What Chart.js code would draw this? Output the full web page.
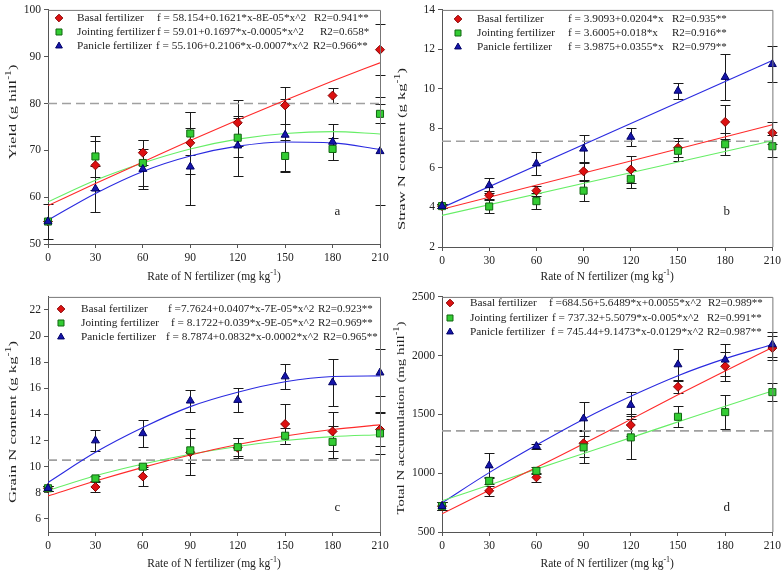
<!DOCTYPE html>
<html>
<head>
<meta charset="utf-8">
<script src="https://cdn.jsdelivr.net/npm/chart.js@4.4.1/dist/chart.umd.min.js"></script>
<style>
  body { margin: 0; background: #fff; }
  #wrap { position: relative; width: 784px; height: 575px; overflow: hidden; }
  .panel { position: absolute; width: 392px; height: 287px; }
</style>
</head>
<body>
<div id="wrap">
  <div class="panel" style="left:0;top:0"><canvas id="panelA" width="392" height="287"></canvas></div>
  <div class="panel" style="left:392px;top:0"><canvas id="panelB" width="392" height="287"></canvas></div>
  <div class="panel" style="left:0;top:287px"><canvas id="panelC" width="392" height="287"></canvas></div>
  <div class="panel" style="left:392px;top:287px"><canvas id="panelD" width="392" height="287"></canvas></div>
</div>
<script>
// N rates on the x axis
const rates = [0, 30, 60, 90, 120, 150, 180, 210];
const lineEnds = [0, 210];
const seriesNames = ["Basal fertilizer", "Jointing fertilizer", "Panicle fertilizer"];
const xTitle = ["Rate of N fertilizer (mg kg", "-1", ")"];

// a - yield
const yieldBasal = [54.8, 66.8, 69.5, 71.6, 75.9, 79.6, 81.7, 91.5];
const yieldBasalErr = [3.7, 5.2, 2.7, 6.6, 4.9, 3.9, 1.6, 5.5];
const yieldJoint = [54.8, 68.7, 67.3, 73.6, 72.7, 68.8, 70.3, 77.8];
const yieldJointErr = [0, 4.4, 5.0, 4.6, 4.2, 3.5, 2.4, 2.0];
const yieldPanicle = [54.8, 61.8, 66.0, 66.5, 71.0, 73.3, 71.8, 69.8];
const yieldPanicleErr = [0, 4.9, 4.3, 8.2, 6.4, 7.7, 3.9, 11.5];
const yieldBasalFit = [58.2, 62.9, 67.5, 72.1, 76.5, 80.7, 84.8, 88.7];
const yieldJointFit = [59.0, 63.6, 67.3, 70.3, 72.4, 73.6, 74.0, 73.5];
const yieldPanicleFit = [55.1, 60.8, 65.5, 68.8, 70.9, 71.8, 71.6, 70.2];
const yieldEqs = ["f = 58.154+0.1621*x-8E-05*x^2", "f = 59.01+0.1697*x-0.0005*x^2", "f = 55.106+0.2106*x-0.0007*x^2"];
const yieldR2 = ["R2=0.941**", "R2=0.658*", "R2=0.966**"];
const yieldTitle = ["Yield (g hill", "-1", ")"];

// b - straw N
const strawBasal = [4.07, 4.62, 4.85, 5.83, 5.92, 7.02, 8.33, 7.78];
const strawBasalErr = [0.1, 0.2, 0.25, 0.45, 0.67, 0.48, 0.87, 0.57];
const strawJoint = [4.07, 4.05, 4.32, 4.85, 5.45, 6.87, 7.2, 7.1];
const strawJointErr = [0.1, 0.33, 0.42, 0.5, 0.47, 0.5, 0.55, 0.55];
const strawPanicle = [4.07, 5.12, 6.22, 6.97, 7.57, 9.9, 10.6, 11.25];
const strawPanicleErr = [0.1, 0.38, 0.57, 0.72, 0.45, 0.4, 1.18, 0.9];
const strawBasalFit = [3.91, 8.19];
const strawJointFit = [3.6, 7.38];
const strawPanicleFit = [3.99, 11.44];
const strawEqs = ["f = 3.9093+0.0204*x", "f = 3.6005+0.018*x", "f = 3.9875+0.0355*x"];
const strawR2 = ["R2=0.935**", "R2=0.916**", "R2=0.979**"];
const strawTitle = ["Straw N content (g kg", "-1", ")"];

// c - grain N
const grainBasal = [8.35, 8.45, 9.25, 11.1, 11.45, 13.27, 12.7, 12.85];
const grainBasalErr = [0.2, 0.35, 0.75, 1.75, 0.75, 1.53, 1.5, 1.3];
const grainJoint = [8.35, 9.1, 10.0, 11.25, 11.5, 12.37, 11.9, 12.55];
const grainJointErr = [0.2, 0.2, 0.15, 0.95, 0.7, 0.6, 1.2, 1.55];
const grainPanicle = [8.35, 12.0, 12.55, 15.05, 15.1, 16.9, 16.45, 17.2];
const grainPanicleErr = [0.2, 0.8, 1.05, 0.85, 0.95, 0.95, 1.8, 1.8];
const grainBasalFit = [7.76, 8.9, 9.95, 10.9, 11.7, 12.35, 12.85, 13.2];
const grainJointFit = [8.17, 9.3, 10.2, 10.95, 11.55, 12.0, 12.3, 12.45];
const grainPanicleFit = [8.79, 11.1, 13.0, 14.6, 15.7, 16.5, 16.9, 16.95];
const grainEqs = ["f =7.7624+0.0407*x-7E-05*x^2", "f = 8.1722+0.039*x-9E-05*x^2", "f = 8.7874+0.0832*x-0.0002*x^2"];
const grainR2 = ["R2=0.923**", "R2=0.969**", "R2=0.965**"];
const grainTitle = ["Grain N content (g kg", "-1", ")"];
const grainTicks = [6, 8, 10, 12, 14, 16, 18, 20, 22];

// d - total N accumulation
const totalBasal = [720, 850, 965, 1255, 1410, 1735, 1910, 2065];
const totalBasalErr = [35, 40, 40, 115, 95, 50, 125, 100];
const totalJoint = [720, 935, 1020, 1220, 1305, 1480, 1520, 1690];
const totalJointErr = [35, 30, 30, 135, 185, 90, 145, 75];
const totalPanicle = [720, 1065, 1230, 1465, 1580, 1925, 1965, 2095];
const totalPanicleErr = [35, 105, 20, 145, 115, 135, 135, 105];
const totalBasalFit = [655, 855, 1048, 1250, 1458, 1668, 1870, 2070];
const totalJointFit = [765, 900, 1035, 1168, 1303, 1437, 1570, 1700];
const totalPanicleFit = [748, 1005, 1240, 1460, 1655, 1830, 1975, 2095];
const totalEqs = ["f =684.56+5.6489*x+0.0055*x^2", "f = 737.32+5.5079*x-0.005*x^2", "f = 745.44+9.1473*x-0.0129*x^2"];
const totalR2 = ["R2=0.989**", "R2=0.991**", "R2=0.987**"];
const totalTitle = ["Total N accumulation (mg hill", "-1", ")"];

const serif = "'Liberation Serif', 'DejaVu Serif', serif";
Chart.defaults.font.family = serif;
Chart.defaults.font.size = 11.5;
Chart.defaults.color = "#222";
Chart.defaults.animation = false;
Chart.defaults.plugins.legend.display = false;
Chart.defaults.plugins.tooltip.enabled = false;

const styles = [
    { shape: "rectRot", fill: "#dd1111", edge: "#880000", line: "#ff2a2a", radius: 4.5 },
    { shape: "rect", fill: "#33cc33", edge: "#116611", line: "#66ee66", radius: 5 },
    { shape: "triangle", fill: "#1515aa", edge: "#000066", line: "#2a2ae0", radius: 4.6 }
];

// text with a raised "-1" part; optional stretch along its length
function drawSupText(ctx, parts, cx, cy, size, rotate, targetLen) {
    const supSize = Math.round(size * 0.7);
    ctx.save();
    ctx.translate(cx, cy);
    if (rotate) ctx.rotate(-Math.PI / 2);
    ctx.textAlign = "left";
    ctx.textBaseline = "middle";
    const widths = parts.map((t, i) => {
        ctx.font = (i === 1 ? supSize : size) + "px " + serif;
        return ctx.measureText(t).width;
    });
    const total = widths.reduce((a, b) => a + b, 0);
    if (targetLen) ctx.scale(targetLen / total, 1);
    let x = -total / 2;
    parts.forEach((t, i) => {
        ctx.font = (i === 1 ? supSize : size) + "px " + serif;
        ctx.fillText(t, x, i === 1 ? -size * 0.38 : 0);
        x += widths[i];
    });
    ctx.restore();
}

// error bars, frame, titles, panel letter and the equation legend
const panelExtras = {
    id: "panelExtras",
    beforeDatasetsDraw(chart, args, opts) {
        const { ctx, scales: { x, y } } = chart;
        ctx.save();
        ctx.strokeStyle = "#1a1a1a";
        ctx.lineWidth = 1;
        opts.errors.forEach((errs, i) => {
            errs.forEach((e, j) => {
                if (!e) return;
                const v = opts.values[i][j];
                const px = Math.round(x.getPixelForValue(rates[j])) + 0.5;
                const top = Math.round(y.getPixelForValue(v + e)) + 0.5;
                const bot = Math.round(y.getPixelForValue(v - e)) + 0.5;
                ctx.beginPath();
                ctx.moveTo(px, top); ctx.lineTo(px, bot);
                ctx.moveTo(px - 5, top); ctx.lineTo(px + 5, top);
                ctx.moveTo(px - 5, bot); ctx.lineTo(px + 5, bot);
                ctx.stroke();
            });
        });
        ctx.restore();
    },
    afterDraw(chart, args, opts) {
        const { ctx, chartArea: a, scales: { x, y } } = chart;
        ctx.save();
        ctx.strokeStyle = "#777";
        ctx.lineWidth = 1;
        ctx.beginPath();
        ctx.moveTo(a.left, a.top + 0.5); ctx.lineTo(a.right + 0.5, a.top + 0.5);
        ctx.lineTo(a.right + 0.5, a.bottom);
        ctx.stroke();

        ctx.fillStyle = "#222";
        drawSupText(ctx, xTitle, (a.left + a.right) / 2, 277, 11.5, false, 0);
        drawSupText(ctx, opts.yTitle.parts, opts.yTitle.x, opts.yTitle.y, 11.2, true, opts.yTitle.len);

        ctx.font = "13px " + serif;
        ctx.textBaseline = "middle";
        ctx.textAlign = "center";
        ctx.fillText(opts.letter.text, x.getPixelForValue(opts.letter.x), y.getPixelForValue(opts.letter.y));

        const L = opts.legend;
        ctx.textAlign = "left";
        seriesNames.forEach((name, i) => {
            const s = styles[i];
            const ry = L.rowY[i];
            ctx.fillStyle = s.fill;
            ctx.strokeStyle = s.edge;
            ctx.lineWidth = 1;
            Chart.helpers.drawPoint(ctx, { pointStyle: s.shape, radius: s.radius * 0.85, rotation: 0, borderWidth: 1 }, L.markerX, ry);
            ctx.fillStyle = "#222";
            ctx.font = "11.3px " + serif;
            ctx.fillText(name, L.nameX, ry);
            ctx.font = "11.3px " + serif;
            ctx.fillText(opts.eqs[i], L.eqX[i], ry);
            ctx.font = "11px " + serif;
            ctx.fillText(opts.r2[i], L.r2X[i], ry);
        });
        ctx.restore();
    }
};

function makePanel(id, p) {
    const datasets = [];
    p.values.forEach((vals, i) => {
        const s = styles[i];
        datasets.push({
            type: "scatter",
            data: rates.map((r, j) => ({ x: r, y: vals[j] })),
            pointStyle: s.shape,
            pointRadius: s.radius,
            backgroundColor: s.fill,
            borderColor: s.edge,
            borderWidth: 1,
            order: 3 - i,
            clip: false
        });
        datasets.push({
            type: "line",
            data: p.fitX.map((r, j) => ({ x: r, y: p.fits[i][j] })),
            borderColor: s.line,
            borderWidth: 1.1,
            pointRadius: 0,
            cubicInterpolationMode: "monotone",
            fill: false,
            order: 10
        });
    });
    datasets.push({
        type: "line",
        data: [{ x: 0, y: p.ref }, { x: 210, y: p.ref }],
        borderColor: "#a0a0a0",
        borderWidth: 1.6,
        borderDash: [9, 5],
        pointRadius: 0,
        order: 11
    });

    const yScale = {
        type: "linear",
        min: p.yMin,
        max: p.yMax,
        ticks: { stepSize: p.yStep, padding: 3, color: "#222", callback: v => v },
        grid: { drawOnChartArea: false, tickLength: 4, color: "#555" },
        border: { color: "#555" },
        afterFit: s => { s.width = p.box.left; }
    };
    if (p.yTicks) {
        yScale.afterBuildTicks = axis => { axis.ticks = p.yTicks.map(v => ({ value: v })); };
    }

    new Chart(document.getElementById(id), {
        type: "scatter",
        data: { datasets: datasets },
        options: {
            responsive: false,
            layout: { padding: { top: p.box.top, right: 392 - p.box.right, left: 0, bottom: 0 } },
            scales: {
                x: {
                    type: "linear",
                    min: 0,
                    max: 210,
                    ticks: { stepSize: 30, padding: 3, color: "#222" },
                    grid: { drawOnChartArea: false, tickLength: 4, color: "#555" },
                    border: { color: "#555" },
                    afterFit: s => { s.height = 287 - p.box.bottom; }
                },
                y: yScale
            },
            plugins: {
                panelExtras: {
                    values: p.values,
                    errors: p.errors,
                    letter: p.letter,
                    legend: p.legend,
                    yTitle: p.yTitle,
                    eqs: p.eqs,
                    r2: p.r2
                }
            }
        },
        plugins: [panelExtras]
    });
}

makePanel("panelA", {
    values: [yieldBasal, yieldJoint, yieldPanicle],
    errors: [yieldBasalErr, yieldJointErr, yieldPanicleErr],
    fitX: rates,
    fits: [yieldBasalFit, yieldJointFit, yieldPanicleFit],
    ref: 80,
    yMin: 50, yMax: 100, yStep: 10,
    yTitle: { parts: yieldTitle, x: 13, y: 112, len: 95 },
    box: { left: 48, right: 380, top: 7, bottom: 244 },
    letter: { text: "a", x: 183, y: 57 },
    legend: { markerX: 59, nameX: 77, eqX: [157, 157, 156], r2X: [314, 320, 313], rowY: [18, 32, 46] },
    eqs: yieldEqs, r2: yieldR2
});

makePanel("panelB", {
    values: [strawBasal, strawJoint, strawPanicle],
    errors: [strawBasalErr, strawJointErr, strawPanicleErr],
    fitX: lineEnds,
    fits: [strawBasalFit, strawJointFit, strawPanicleFit],
    ref: 7.35,
    yMin: 2, yMax: 14, yStep: 2,
    yTitle: { parts: strawTitle, x: 10, y: 149, len: 162 },
    box: { left: 50, right: 381, top: 8, bottom: 247 },
    letter: { text: "b", x: 181, y: 3.8 },
    legend: { markerX: 66, nameX: 85, eqX: [176, 176, 176], r2X: [280, 280, 280], rowY: [19, 33, 47] },
    eqs: strawEqs, r2: strawR2
});

makePanel("panelC", {
    values: [grainBasal, grainJoint, grainPanicle],
    errors: [grainBasalErr, grainJointErr, grainPanicleErr],
    fitX: rates,
    fits: [grainBasalFit, grainJointFit, grainPanicleFit],
    ref: 10.5,
    yMin: 5, yMax: 23, yStep: 2, yTicks: grainTicks,
    yTitle: { parts: grainTitle, x: 13, y: 135, len: 162 },
    box: { left: 48, right: 380, top: 7, bottom: 245 },
    letter: { text: "c", x: 183, y: 6.9 },
    legend: { markerX: 61, nameX: 81, eqX: [168, 171, 166], r2X: [318, 318, 323], rowY: [22, 36, 50] },
    eqs: grainEqs, r2: grainR2
});

makePanel("panelD", {
    values: [totalBasal, totalJoint, totalPanicle],
    errors: [totalBasalErr, totalJointErr, totalPanicleErr],
    fitX: rates,
    fits: [totalBasalFit, totalJointFit, totalPanicleFit],
    ref: 1360,
    yMin: 500, yMax: 2500, yStep: 500,
    yTitle: { parts: totalTitle, x: 9, y: 131, len: 193 },
    box: { left: 50, right: 381, top: 7, bottom: 245 },
    letter: { text: "d", x: 181, y: 710 },
    legend: { markerX: 58, nameX: 78, eqX: [157, 160, 159], r2X: [316, 315, 315], rowY: [16, 31, 45] },
    eqs: totalEqs, r2: totalR2
});
</script>
</body>
</html>
